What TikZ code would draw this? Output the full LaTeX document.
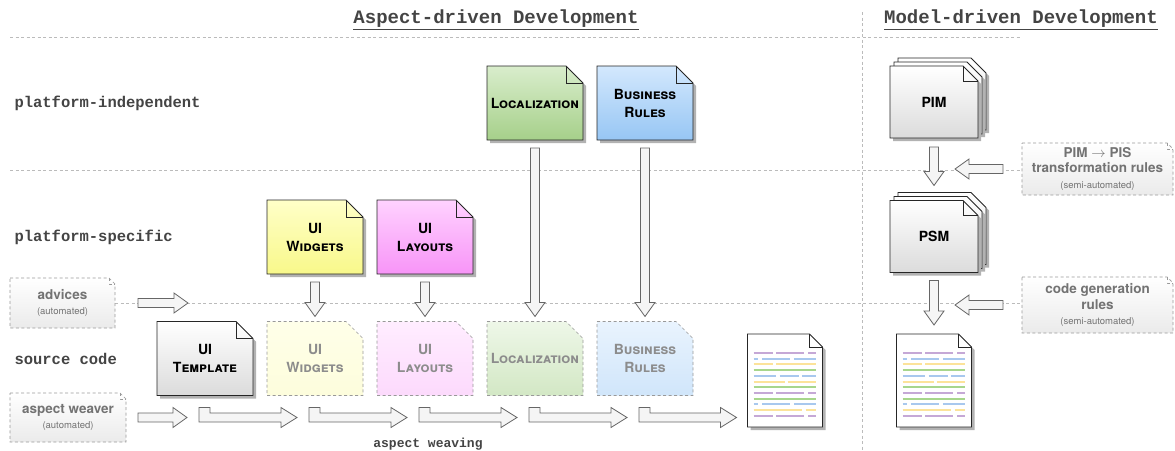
\documentclass[tikz,border=0pt]{standalone}
\usepackage{fontspec}
\setsansfont{TeX Gyre Heros}
\setmonofont{Liberation Mono}
\usetikzlibrary{calc,shadows}

\pgfdeclarelayer{background}
\pgfsetlayers{background,main}

\definecolor{locA}{HTML}{D9EDCC}
\definecolor{locB}{HTML}{A6D08A}
\definecolor{busA}{HTML}{D3E8FD}
\definecolor{busB}{HTML}{97C6F4}
\definecolor{widA}{HTML}{FFFFC8}
\definecolor{widB}{HTML}{F8F88A}
\definecolor{layA}{HTML}{FFD2FF}
\definecolor{layB}{HTML}{F794F7}
\definecolor{guidegray}{HTML}{BBBBBB}
\definecolor{labelgray}{HTML}{444444}
\definecolor{lnPurple}{HTML}{C5A8D6}
\definecolor{lnBlue}{HTML}{A8C8EE}
\definecolor{lnYellow}{HTML}{FCE39A}
\definecolor{lnGreen}{HTML}{A7D68C}

\newcommand{\subnote}[1]{{\mdseries\fontsize{9.5}{11}\selectfont #1}}

% page outline with cut corner behind node #1 (ear #2, style #3)
\newcommand{\pageshape}[3]{%
  \begin{pgfonlayer}{background}
    \path[#3] (#1.north west) -- ($(#1.north east)+(-#2,0)$) -- ($(#1.north east)+(0,-#2)$)
      -- (#1.south east) -- (#1.south west) -- cycle;
  \end{pgfonlayer}}

% hollow block arrow from #1 to #2
\newcommand{\fatarrow}[2]{%
  \path (#1) coordinate (fa-a) (#2) coordinate (fa-b);
  \path ($(fa-b)!14pt!(fa-a)$) coordinate (fa-h);
  \draw[fatarr] ($(fa-a)!4.5pt!90:(fa-b)$) -- ($(fa-h)!4.5pt!90:(fa-b)$)
    -- ($(fa-h)!10pt!90:(fa-b)$) -- (fa-b) -- ($(fa-h)!10pt!-90:(fa-b)$)
    -- ($(fa-h)!4.5pt!-90:(fa-b)$) -- ($(fa-a)!4.5pt!-90:(fa-b)$) -- cycle;
}
% same, with the little tab at the tail
\newcommand{\weavearrow}[2]{%
  \path (#1) coordinate (wv-a) (#2) coordinate (wv-b);
  \path ($(wv-b)!16pt!(wv-a)$) coordinate (wv-h) ($(wv-a)!11pt!(wv-b)$) coordinate (wv-t);
  \draw[fatarr] ($(wv-a)!4.5pt!-90:(wv-b)$) -- ($(wv-a)!10pt!90:(wv-b)$)
    -- ($(wv-t)!10pt!90:(wv-b)$) -- ($(wv-t)!4.5pt!90:(wv-b)$)
    -- ($(wv-h)!4.5pt!90:(wv-b)$) -- ($(wv-h)!10pt!90:(wv-b)$) -- (wv-b)
    -- ($(wv-h)!10pt!-90:(wv-b)$) -- ($(wv-h)!4.5pt!-90:(wv-b)$) -- cycle;
}

\begin{document}
\begin{tikzpicture}[x=1pt,y=1pt,
  guide/.style={draw=guidegray,line width=0.7pt,dash pattern=on 3pt off 2.5pt},
  page/.style={rectangle,minimum width=96pt,minimum height=74pt,inner sep=0pt,outer sep=0pt,
    align=center,font=\sffamily\bfseries\fontsize{14}{18}\selectfont},
  ghost/.style={page,text=black!45},
  stackpage/.style={page,minimum width=88pt,minimum height=72pt},
  codedoc/.style={page,minimum width=75pt,minimum height=93pt},
  rulebox/.style={page,text=black!55,font=\sffamily\bfseries\fontsize{13.5}{15.5}\selectfont},
  noteshape/.style={draw=black!85,line width=0.9pt,
    drop shadow={shadow xshift=3pt,shadow yshift=-3pt,fill=black!30,opacity=1}},
  ghostshape/.style={draw=black!40,line width=0.7pt,dash pattern=on 3pt off 2.5pt},
  pLoc/.style={noteshape,top color=locA,bottom color=locB},
  pBus/.style={noteshape,top color=busA,bottom color=busB},
  pWid/.style={noteshape,top color=widA,bottom color=widB},
  pLay/.style={noteshape,top color=layA,bottom color=layB},
  pGray/.style={noteshape,top color=white,bottom color=black!14},
  pCode/.style={noteshape,fill=white},
  gWid/.style={ghostshape,top color=widA!40,bottom color=widB!30},
  gLay/.style={ghostshape,top color=layA!40,bottom color=layB!35},
  gLoc/.style={ghostshape,top color=locA!45,bottom color=locB!50},
  gBus/.style={ghostshape,top color=busA!50,bottom color=busB!45},
  gRule/.style={ghostshape,top color=white,bottom color=black!8},
  fold/.style={draw=black!85,line width=0.9pt},
  fatarr/.style={draw=black!60,fill=black!4,line width=0.8pt},
  codeline/.style={line width=2pt},
  rowlabel/.style={anchor=west,text=labelgray,font=\ttfamily\bfseries\fontsize{15.5}{18}\selectfont},
  heading/.style={text=labelgray,font=\ttfamily\bfseries\fontsize{19}{22}\selectfont}]
  \useasboundingbox (0,0) rectangle (1175,-450);

  % guide lines
  \begin{pgfonlayer}{background}
    \draw[guide] (10,-37) -- (1020,-37);
    \draw[guide] (10,-170) -- (1022,-170);
    \draw[guide] (115,-303) -- (1022,-303);
    \draw[guide] (862,-12) -- (862,-450);
  \end{pgfonlayer}

  \node[heading] (headADD) at (496,-20) {\underline{Aspect-driven Development}};
  \node[heading] (headMDD) at (1021,-20) {\underline{Model-driven Development}};

  \node[rowlabel] (rowPI) at (11,-103) {platform-independent};
  \node[rowlabel] (rowPS) at (11,-237) {platform-specific};
  \node[rowlabel] (rowSC) at (11,-359) {source code};

  % aspect-driven side
  \node[page] (loc) at (535,-103) {\textsc{Localization}};
  \node[page] (bus) at (645,-103) {\textsc{Business}\\\textsc{Rules}};
  \node[page] (wid) at (315,-237) {UI\\\textsc{Widgets}};
  \node[page] (lay) at (425,-237) {UI\\\textsc{Layouts}};

  \node[page] (tpl) at (205,-358.5) {UI\\\textsc{Template}};
  \node[ghost] (gwid) at (315,-358.5) {UI\\\textsc{Widgets}};
  \node[ghost] (glay) at (425,-358.5) {UI\\\textsc{Layouts}};
  \node[ghost] (gloc) at (535,-358.5) {\textsc{Localization}};
  \node[ghost] (gbus) at (645,-358.5) {\textsc{Business}\\\textsc{Rules}};

  \node[codedoc] (code1) at (785,-380.5) {};

  \node[rulebox,minimum width=105pt,minimum height=50pt] (adv) at (62.5,-303) {advices\\\subnote{(automated)}};
  \node[rulebox,minimum width=116pt,minimum height=49pt] (weaver) at (68,-417.5) {aspect weaver\\\subnote{(automated)}};

  % model-driven side
  \node[stackpage] (pimB) at (942,-94) {};
  \node[stackpage] (pimM) at (938,-98) {};
  \node[stackpage] (pim) at (934,-102) {PIM};
  \node[stackpage] (psmB) at (942,-228.5) {};
  \node[stackpage] (psmM) at (938,-232.5) {};
  \node[stackpage] (psm) at (934,-236.5) {PSM};
  \node[codedoc] (code2) at (934,-380.5) {};

  \node[rulebox,minimum width=151pt,minimum height=52pt] (pis) at (1097.5,-169)
    {PIM $\rightarrow$ PIS\\transformation rules\\\subnote{(semi-automated)}};
  \node[rulebox,minimum width=151pt,minimum height=56pt] (cgen) at (1097.5,-305)
    {code generation\\rules\\\subnote{(semi-automated)}};

  % page shapes, back to front
  \foreach \n/\f/\s in {loc/17/pLoc,bus/17/pBus,wid/17/pWid,lay/17/pLay,tpl/17/pGray,
      gwid/17/gWid,glay/17/gLay,gloc/17/gLoc,gbus/17/gBus,
      pimB/15/pGray,pimM/15/pGray,pim/15/pGray,psmB/15/pGray,psmM/15/pGray,psm/15/pGray,
      code1/13/pCode,code2/13/pCode,adv/6/gRule,weaver/6/gRule,pis/6/gRule,cgen/6/gRule}
    {\pageshape{\n}{\f}{\s}}

  % dog ears
  \foreach \n/\f in {loc/17,bus/17,wid/17,lay/17,tpl/17,pim/15,psm/15,code1/13,code2/13}
    \draw[fold] ($(\n.north east)+(-\f,0)$) |- ($(\n.north east)+(0,-\f)$);
  \foreach \n in {adv,weaver,pis,cgen}
    \draw[guide,draw=black!40] ($(\n.north east)+(-6,0)$) |- ($(\n.north east)+(0,-6)$);

  % code lines
  \foreach \d in {code1,code2}{
    \foreach \r/\c/\s in {0/lnPurple/{0/.31,.37/.82,.88/1}, 1/lnBlue/{0/.08,.14/.59,.65/1},
        2/lnYellow/{0/.31,.37/1}, 3/lnGreen/{0/1}, 4/lnBlue/{0/.37,.42/.73,.78/1},
        5/lnYellow/{0/.5,.55/1}, 6/lnGreen/{0/1}, 7/lnPurple/{0/.31,.37/.82,.88/1},
        8/lnGreen/{0/1}, 9/lnBlue/{0/.08,.14/.59,.65/1}, 10/lnYellow/{0/.78,.84/1},
        11/lnPurple/{0/.31,.37/.82,.88/1}}{
      \foreach \a/\b in \s
        \draw[codeline,\c] ($(\d.north west)+({6+62*\a},{-19-5.7*\r})$)
          -- ($(\d.north west)+({6+62*\b},{-19-5.7*\r})$);
    }
  }

  % arrows
  \foreach \s/\t in {wid/gwid,lay/glay,loc/gloc,bus/gbus}
    {\fatarrow{$(\s.south)+(0,-8)$}{$(\t.north)+(0,5)$}}
  \fatarrow{$(pim.south)+(0,-9)$}{$(psm.north)+(0,15)$}
  \fatarrow{$(psm.south)+(0,-8)$}{$(code2.north)+(0,9)$}
  \fatarrow{$(pis.west)+(-19,0)$}{$(pis.west)+(-67,0)$}
  \fatarrow{$(cgen.west)+(-19,0)$}{$(cgen.west)+(-67,0)$}
  \fatarrow{$(adv.east)+(23,0)$}{$(adv.east)+(73,0)$}
  \fatarrow{$(weaver.east)+(12,0)$}{$(weaver.east)+(61,0)$}

  \foreach \s/\t in {tpl/gwid,gwid/glay,glay/gloc,gloc/gbus}
    {\weavearrow{$(\s.south)+(-6,-22)$}{$(\t.south)+(-18,-22)$}}
  \weavearrow{$(gbus.south)+(-6,-22)$}{$(code1.west |- gbus.south)+(-11,-22)$}

  \node[text=labelgray,font=\ttfamily\bfseries\fontsize{13}{15}\selectfont] (weavelabel) at (428,-444) {aspect weaving};
\end{tikzpicture}
\end{document}
